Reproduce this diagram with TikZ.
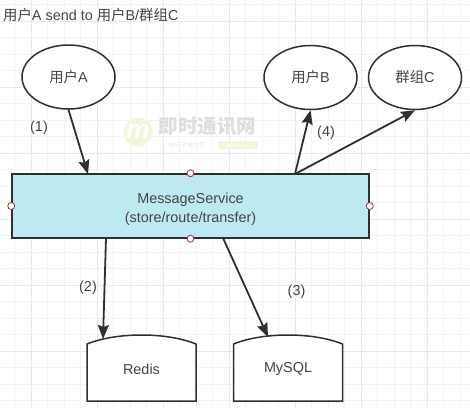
\documentclass[tikz,border=0pt]{standalone}
\usepackage{fontspec}
\setmainfont{Liberation Sans}
\newfontfamily\cjk{Noto Sans CJK SC}
\usetikzlibrary{arrows.meta, shapes.geometric}

\definecolor{inkgray}{HTML}{2F2F2F}
\definecolor{textgray}{HTML}{444444}
\definecolor{gridgray}{HTML}{F3F3F3}
\definecolor{gridbold}{HTML}{E9E9E9}
\definecolor{svcblue}{HTML}{BDE9F0}
\definecolor{portred}{HTML}{8E3A3A}
\definecolor{markgreen}{HTML}{F1F6DC}

\newcommand{\storeshape}[3]{%
    \draw[draw=inkgray, line width=1.5pt, fill=white] (#1-54.5,344) -- (#1-54.5,401) -- (#1+54.5,401) -- (#1+54.5,344)
        .. controls (#1+25,332) and (#1-25,332) .. (#1-54.5,344) -- cycle;
    \node[store] (#2) at (#1,369) {#3};
}

\begin{document}
\begin{tikzpicture}[
    x=1pt, y=-1pt,
    user/.style={ellipse, draw=inkgray, line width=1.5pt, fill=white, minimum width=93pt, minimum height=64pt, inner sep=0pt, text=textgray, font=\fontsize{14.4}{17}\selectfont},
    service/.style={rectangle, draw=inkgray, line width=1.5pt, fill=svcblue, minimum width=357pt, minimum height=64pt, inner sep=0pt, align=center, text=textgray, font=\fontsize{14.4}{19}\selectfont},
    store/.style={rectangle, minimum width=109pt, minimum height=50pt, inner sep=0pt, text=textgray, font=\fontsize{14.4}{17}\selectfont},
    port/.style={circle, draw=portred, line width=0.8pt, fill=white, minimum size=7pt, inner sep=0pt},
    flow/.style={-{Stealth[length=14pt, width=11pt, inset=2pt]}, line width=1.8pt, draw=inkgray},
    step label/.style={text=textgray, font=\fontsize{14.4}{17}\selectfont}
]
    \useasboundingbox (0,0) rectangle (470,408);
    \fill[white] (0,0) rectangle (470,408);

    % Grid
    \foreach \i in {0,...,27} \draw[gridgray, line width=0.7pt] ({14.5+16.5*\i},0) -- ({14.5+16.5*\i},408);
    \foreach \i in {0,...,24} \draw[gridgray, line width=0.7pt] (0,{4.5+16.5*\i}) -- (470,{4.5+16.5*\i});
    \foreach \i in {0,...,6} \draw[gridbold, line width=0.8pt] ({31+66*\i},0) -- ({31+66*\i},408);
    \foreach \i in {0,...,5} \draw[gridbold, line width=0.8pt] (0,{21+66*\i}) -- (470,{21+66*\i});

    % Watermark
    \node[circle, fill=markgreen, minimum size=29pt, inner sep=0pt, text=white, font=\bfseries\itshape\fontsize{26}{26}\selectfont] (logo) at (138,132) {m};
    \node[text=black!13, font=\cjk\bfseries\fontsize{19.5}{20}\selectfont, inner sep=0pt, text height=15pt, text depth=1pt] (mark) at (207.5,126.5) {即时通讯网};
    \node[text=black!10, font=\cjk\fontsize{6}{7}\selectfont, inner sep=0pt, text height=5pt, text depth=1pt] (markSub) at (187,145) {IM开发者社区};
    \node[rounded corners=2pt, fill=markgreen, text=white, minimum width=40pt, minimum height=8pt, font=\fontsize{6}{7}\selectfont, inner sep=0pt] (markUrl) at (238,145) {52im.net};

    % Title
    \node[anchor=west, inner sep=0pt, step label] (title) at (3,15) {{\cjk 用户}A send to {\cjk 用户}B/{\cjk 群组}C};

    % Nodes
    \node[user] (userA) at (68.5,77) {{\cjk 用户}A};
    \node[user] (userB) at (310.5,77.5) {{\cjk 用户}B};
    \node[user] (groupC) at (415,77.5) {{\cjk 群组}C};
    \node[service] (svc) at (190.5,206) {\rule{0pt}{17pt}MessageService\\(store/route/transfer)};

    % Stores
    \storeshape{141.5}{redis}{Redis}
    \storeshape{288}{mysql}{MySQL}

    % Ports
    \node[port] (portN) at (svc.north) {};
    \node[port] (portS) at (svc.south) {};
    \node[port] (portW) at (svc.west) {};
    \node[port] (portE) at (svc.east) {};

    % Edges
    \coordinate (svcIn) at (88,174);
    \coordinate (svcOut) at (295,174);
    \coordinate (svcRedis) at (106,238);
    \coordinate (svcMysql) at (223,238);
    \coordinate (redisIn) at (103,339);
    \coordinate (mysqlIn) at (268,337);
    \draw[flow] (userA.south) -- (svcIn);
    \draw[flow] (svcOut) -- (userB.south);
    \draw[flow] (svcOut) -- (groupC.south);
    \draw[flow] (svcRedis) -- (redisIn);
    \draw[flow] (svcMysql) -- (mysqlIn);

    % Labels
    \node[step label] (stepOne) at (39,128) {(1)};
    \node[step label] (stepTwo) at (88,288) {(2)};
    \node[step label] (stepThree) at (296.5,292) {(3)};
    \node[step label] (stepFour) at (326,132.5) {(4)};
\end{tikzpicture}
\end{document}
